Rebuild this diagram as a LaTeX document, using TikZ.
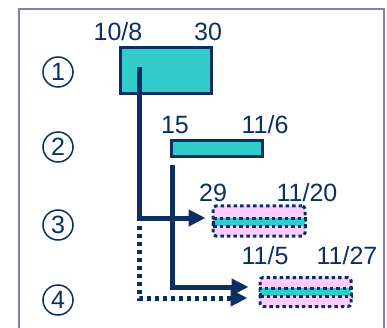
\documentclass[tikz,border=0pt]{standalone}
\usepackage{fontspec}
\setmainfont{Liberation Sans}
\usepackage{xcolor}
\usepackage{tikz}
\usetikzlibrary{arrows.meta,positioning}
\definecolor{navy}{HTML}{0B2F63}
\definecolor{teal}{HTML}{33CCCC}
\definecolor{pinkbar}{HTML}{FFCCFF}
\definecolor{framec}{HTML}{8080B0}
\tikzset{
  lbl/.style={text=navy,font=\fontsize{25}{27}\selectfont,inner sep=0pt},
  num/.style={circle,draw=navy,line width=1.5pt,minimum size=30pt,inner sep=0pt,
    text=navy,font=\fontsize{25}{27}\selectfont},
  plan/.style={draw=navy,fill=teal,line width=3pt,inner sep=0pt},
  actual/.style={draw=navy,fill=pinkbar,rounded corners=3pt,line width=3pt,
    dash pattern=on 3.5pt off 3pt,inner sep=0pt},
  stripe/.style={draw=navy,fill=teal,line width=3pt,dash pattern=on 3.5pt off 3pt,inner sep=0pt},
  conn/.style={draw=navy,line width=5pt,-{Triangle[length=17pt,width=16pt]}},
  dotconn/.style={conn,dash pattern=on 4pt off 4pt}
}
\begin{document}
\begin{tikzpicture}[x=1pt,y=-1pt]
  \useasboundingbox (0,0) rectangle (387,328);
  \draw[framec,line width=1.5pt] (19,345) |- (384,9) -- (384,345);

  % row numbers
  \node[num] (n1) at (58,72) {1};
  \node[num] (n2) at (58,147) {2};
  \node[num] (n3) at (58,225) {3};
  \node[num] (n4) at (58,300) {4};

  % planned bars
  \node[plan,minimum width=91pt,minimum height=46pt] (b1) at (165.5,71) {};
  \node[plan,minimum width=91pt,minimum height=16pt] (b2) at (216.5,149) {};

  % actual bars
  \node[actual,minimum width=92pt,minimum height=30pt] (b3) at (259,221) {};
  \node[stripe,minimum width=92pt,minimum height=8pt] (s3) at (259,222) {};
  \node[actual,minimum width=91pt,minimum height=29pt] (b4) at (305.5,292) {};
  \node[stripe,minimum width=91pt,minimum height=8pt] (s4) at (305.5,292) {};

  % dates
  \node[lbl] (d1a) at (118,32) {10/8};
  \node[lbl] (d1b) at (208,32) {30};
  \node[lbl] (d2a) at (175,125) {15};
  \node[lbl] (d2b) at (265,125) {11/6};
  \node[lbl] (d3a) at (213,193) {29};
  \node[lbl] (d3b) at (307,193) {11/20};
  \node[lbl] (d4a) at (265,256) {11/5};
  \node[lbl] (d4b) at (347,256) {11/27};

  \coordinate (p1) at (139,67);
  \coordinate (p2) at (172,165);
  \coordinate (k1) at (139,226);
  \draw[dotconn,shorten >=11pt] (k1) |- ([yshift=-6pt]b4.west);
  \draw[conn,shorten >=6pt] (p1) |- ([yshift=3pt]b3.west);
  \draw[conn,shorten >=10pt] (p2) |- ([yshift=5pt]b4.west);
\end{tikzpicture}
\end{document}
